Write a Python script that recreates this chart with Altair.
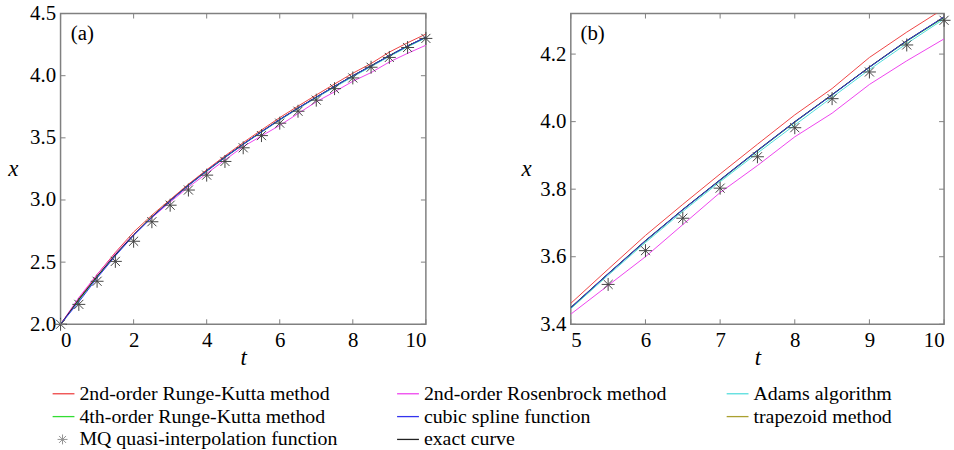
import altair as alt
import pandas as pd

# ---------------- data ----------------
t_vals = [0, 0.5, 1, 1.5, 2, 2.5, 3, 3.5, 4, 4.5, 5, 5.5, 6, 6.5, 7, 7.5, 8, 8.5, 9, 9.5, 10]
exact = [2.00, 2.20, 2.385, 2.56, 2.72, 2.865, 2.995, 3.12, 3.235, 3.345, 3.45, 3.55, 3.648, 3.74, 3.828, 3.915, 4.00, 4.08, 4.162, 4.24, 4.31]
rk2 = [2.00, 2.205, 2.40, 2.578, 2.742, 2.878, 3.003, 3.127, 3.243, 3.355, 3.462, 3.563, 3.663, 3.755, 3.845, 3.933, 4.02, 4.098, 4.19, 4.265, 4.335]
rk4 = [2.00, 2.195, 2.382, 2.557, 2.718, 2.862, 2.993, 3.118, 3.233, 3.343, 3.448, 3.549, 3.646, 3.739, 3.826, 3.913, 3.998, 4.079, 4.161, 4.238, 4.308]
rosen = [2.00, 2.215, 2.40, 2.57, 2.722, 2.858, 2.983, 3.103, 3.213, 3.322, 3.43, 3.515, 3.60, 3.695, 3.79, 3.87, 3.955, 4.025, 4.11, 4.18, 4.245]
spline = [2.00, 2.18, 2.372, 2.55, 2.714, 2.86, 2.993, 3.118, 3.234, 3.344, 3.449, 3.549, 3.647, 3.739, 3.827, 3.914, 3.999, 4.079, 4.161, 4.239, 4.31]
adams = [2.00, 2.19, 2.38, 2.556, 2.716, 2.86, 2.99, 3.115, 3.23, 3.34, 3.446, 3.545, 3.642, 3.734, 3.822, 3.907, 3.99, 4.072, 4.154, 4.231, 4.304]
trap = [2.00, 2.198, 2.384, 2.559, 2.719, 2.864, 2.994, 3.119, 3.234, 3.344, 3.449, 3.549, 3.647, 3.739, 3.827, 3.914, 3.999, 4.08, 4.161, 4.239, 4.309]
mq = [2.00, 2.16, 2.346, 2.506, 2.668, 2.825, 2.958, 3.08, 3.20, 3.31, 3.42, 3.518, 3.618, 3.714, 3.803, 3.896, 3.982, 4.068, 4.147, 4.227, 4.30]

series_names = [
    "trapezoid method", "Adams algorithm", "4th-order Runge-Kutta method",
    "2nd-order Runge-Kutta method", "2nd-order Rosenbrock method",
    "exact curve", "cubic spline function",
]
series_values = [trap, adams, rk4, rk2, rosen, exact, spline]
series_colors = ["#aaa030", "#55dddd", "#33dd33", "#ee4444", "#ee44ee", "#222222", "#3333ee"]
mq_name = "MQ quasi-interpolation function"

xticks_a = [0, 2, 4, 6, 8, 10]
yticks_a = [2.0, 2.5, 3.0, 3.5, 4.0, 4.5]
xticks_b = [5, 6, 7, 8, 9, 10]
yticks_b = [3.4, 3.6, 3.8, 4.0, 4.2]

# legend layout: columns, row-major reading
legend_cols = [
    ["2nd-order Runge-Kutta method", "4th-order Runge-Kutta method", mq_name],
    ["2nd-order Rosenbrock method", "cubic spline function", "exact curve"],
    ["Adams algorithm", "trapezoid method"],
]

# ---------------- styles ----------------
FONT = "Liberation Serif"
FRAME = "#808080"
STAR = "M-1,0L1,0M0,-1L0,1M-0.7,-0.7L0.7,0.7M-0.7,0.7L0.7,-0.7"
TICK = 5

rows = []
for name, vals in zip(series_names, series_values):
    for order, (t, v) in enumerate(zip(t_vals, vals)):
        rows.append({"t": t, "x": v, "series": name, "k": order})
lines_df = pd.DataFrame(rows)
mq_df = pd.DataFrame({"t": t_vals, "x": mq})

color_scale = alt.Scale(domain=series_names, range=series_colors)


def panel(xdom, ydom, xticks, yticks, tag, w, h, tmin, ytitle_x):
    xs = alt.Scale(domain=xdom, nice=False, zero=False)
    ys = alt.Scale(domain=ydom, nice=False, zero=False)
    xaxis = alt.Axis(values=xticks, title="t", format="d", titleX=w / 2, titleY=34,
                     titleBaseline="middle", titleAlign="center")
    yaxis = alt.Axis(values=yticks, title="x", format=".1f", titleAngle=0,
                     titleX=ytitle_x, titleY=h / 2, titleBaseline="middle",
                     titleAlign="center")
    ldf = lines_df[lines_df["t"] >= tmin]
    sdf = mq_df[mq_df["t"] > tmin] if tmin > 0 else mq_df
    lines = alt.Chart(ldf).mark_line(strokeWidth=1, clip=True).encode(
        x=alt.X("t:Q", scale=xs, axis=xaxis),
        y=alt.Y("x:Q", scale=ys, axis=yaxis),
        color=alt.Color("series:N", scale=color_scale, legend=None, sort=series_names),
        order="k:Q",
    )
    stars = alt.Chart(sdf).mark_point(shape=STAR, size=170, filled=False,
                                      color="#444444", strokeWidth=1, opacity=1).encode(
        x=alt.X("t:Q", scale=xs), y=alt.Y("x:Q", scale=ys))
    xt = pd.DataFrame({"t": xticks})
    yt = pd.DataFrame({"x": yticks})
    tb = alt.Chart(xt).mark_rule(color=FRAME, strokeWidth=1).encode(
        x=alt.X("t:Q", scale=xs), y=alt.value(h), y2=alt.value(h - TICK))
    tt = alt.Chart(xt).mark_rule(color=FRAME, strokeWidth=1).encode(
        x=alt.X("t:Q", scale=xs), y=alt.value(0), y2=alt.value(TICK))
    tl = alt.Chart(yt).mark_rule(color=FRAME, strokeWidth=1).encode(
        y=alt.Y("x:Q", scale=ys), x=alt.value(0), x2=alt.value(TICK))
    tr = alt.Chart(yt).mark_rule(color=FRAME, strokeWidth=1).encode(
        y=alt.Y("x:Q", scale=ys), x=alt.value(w - TICK), x2=alt.value(w))
    lab = alt.Chart(pd.DataFrame({"s": [tag]})).mark_text(
        font=FONT, fontSize=21, align="center", baseline="middle", color="black"
    ).encode(text="s:N", x=alt.value(22), y=alt.value(21))
    return alt.layer(lines, stars, tb, tt, tl, tr, lab).properties(
        width=w, height=h, view=alt.ViewBackground(stroke=FRAME, strokeWidth=1.5))


pa = panel([0, 10], [2.0, 4.5], xticks_a, yticks_a, "(a)", 368, 313, 0, -48)
pb = panel([5, 10], [3.4, 4.32], xticks_b, yticks_b, "(b)", 376, 313, 5, -45)

# ---------------- legend ----------------
ORIGIN_X = 58          # image x of the legend view's left edge
LEG_W, LEG_H = 880, 78
col_x = [50, 397, 729]  # image x where each legend column's sample starts
row_y = [23, 46, 69]
seg = 22
color_of = dict(zip(series_names, series_colors))
leg_lines, leg_text, leg_star = [], [], []
for ci, col in enumerate(legend_cols):
    for ri, name in enumerate(col):
        x0, y0 = col_x[ci], row_y[ri]
        if name == mq_name:
            leg_star.append({"px": x0 + 10, "py": y0})
            leg_text.append({"px": x0 + 27, "py": y0, "label": name})
        else:
            leg_lines.append({"px": x0, "px2": x0 + seg, "py": y0, "c": color_of[name]})
            leg_text.append({"px": x0 + seg + 5, "py": y0, "label": name})

lx = alt.Scale(domain=[ORIGIN_X, ORIGIN_X + LEG_W], range=[0, LEG_W], nice=False, zero=False)
ly = alt.Scale(domain=[0, LEG_H], range=[0, LEG_H], nice=False, zero=False)
leg_l = alt.Chart(pd.DataFrame(leg_lines)).mark_rule(strokeWidth=1.3).encode(
    x=alt.X("px:Q", scale=lx, axis=None), x2="px2:Q",
    y=alt.Y("py:Q", scale=ly, axis=None), color=alt.Color("c:N", scale=None))
leg_t = alt.Chart(pd.DataFrame(leg_text)).mark_text(
    font=FONT, fontSize=20, align="left", baseline="middle", color="black").encode(
    x=alt.X("px:Q", scale=lx, axis=None), y=alt.Y("py:Q", scale=ly, axis=None), text="label:N")
leg_s = alt.Chart(pd.DataFrame(leg_star)).mark_point(
    shape=STAR, size=100, filled=False, color="#666666", strokeWidth=1).encode(
    x=alt.X("px:Q", scale=lx, axis=None), y=alt.Y("py:Q", scale=ly, axis=None))
legend = alt.layer(leg_l, leg_s, leg_t).properties(
    width=LEG_W, height=LEG_H, view=alt.ViewBackground(strokeOpacity=0))

top = alt.hconcat(pa, pb, spacing=85)
chart = alt.vconcat(top, legend, spacing=0).properties(
    padding={"left": 7, "top": 0, "right": 0, "bottom": 0}
).configure_axis(
    labelFont=FONT, labelFontSize=21, labelColor="black", labelPadding=5,
    titleFont=FONT, titleFontSize=23, titleFontStyle="italic", titleFontWeight="normal",
    titleColor="black", domain=False, ticks=False, grid=False,
)

chart.save("out.html", embed_options={"renderer": "svg", "actions": False})
